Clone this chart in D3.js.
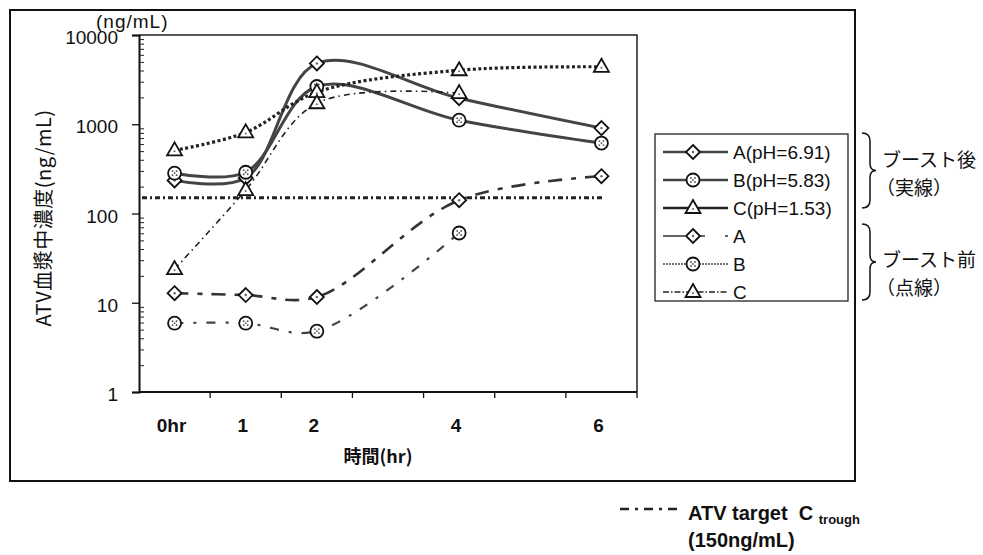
<!DOCTYPE html>
<html>
<head>
<meta charset="utf-8">
<script src="https://cdn.jsdelivr.net/npm/d3@7.9.0/dist/d3.min.js"></script>
<style>
  body { margin: 0; background: #fff; }
  svg { display: block; font-family: "Liberation Sans", Arial, "Noto Sans CJK JP", sans-serif; }
</style>
</head>
<body>
<svg id="chart" width="983" height="555"></svg>
<script>
// categories on the time axis (3 and 5 have no label)
const hours = [0, 1, 2, 3, 4, 5, 6];
const tickLabels = ["0hr", "1", "2", "", "4", "", "6"];
const yTicks = [1, 10, 100, 1000, 10000];

// sampled time points
const hoursFull = [0, 1, 2, 4, 6];
const hoursShort = [0, 1, 2, 4];

// after boost (solid)
const aAfter = [235, 250, 4800, 1960, 905];
const bAfter = [283, 290, 2650, 1110, 615];
const cAfter = [510, 810, 2290, 4030, 4400];
// before boost (dashed)
const aBefore = [12.8, 12.2, 11.6, 141, 262];
const bBefore = [5.9, 5.9, 4.8, 60.5];
const cBefore = [23.8, 183, 1720, 2230];

const targetTrough = 150;

const series = [
  {name: "A(pH=6.91)", hrs: hoursFull, vals: aAfter, marker: "diamond", dash: null, width: 3, color: "#444", legendDash: null},
  {name: "B(pH=5.83)", hrs: hoursFull, vals: bAfter, marker: "circle", dash: null, width: 3, color: "#444", legendDash: null},
  {name: "C(pH=1.53)", hrs: hoursFull, vals: cAfter, marker: "triangle", dash: "3,2.5", width: 3.2, color: "#222", legendDash: null},
  {name: "A", hrs: hoursFull, vals: aBefore, marker: "diamond", dash: "14,9,5,9", width: 2.6, color: "#333", legendDash: "22,14,6,20"},
  {name: "B", hrs: hoursShort, vals: bBefore, marker: "circle", dash: "9,10,3,10", width: 2.2, color: "#444", legendDash: "2,1"},
  {name: "C", hrs: hoursShort, vals: cBefore, marker: "triangle", dash: "6,4,1.5,4", width: 1.6, color: "#222", legendDash: "6,2,1.5,2"}
];

const svg = d3.select("#chart");

// outer frame
svg.append("rect")
  .attr("x", 10).attr("y", 10)
  .attr("width", 845).attr("height", 471)
  .attr("fill", "none").attr("stroke", "#111").attr("stroke-width", 2);

const plot = {left: 139, right: 637, top: 35, bottom: 392};

const x = d3.scaleBand().domain(hours).range([plot.left, plot.right]).padding(0);
const cx = h => x(h) + x.bandwidth() / 2;
const y = d3.scaleLog().domain([1, 10000]).range([plot.bottom, plot.top]);

// plot border (top and right)
svg.append("path")
  .attr("d", `M${plot.left},${plot.top}H${plot.right}V${plot.bottom}`)
  .attr("fill", "none").attr("stroke", "#222").attr("stroke-width", 1.5);

// y axis
const yAxis = svg.append("g")
  .attr("transform", `translate(${plot.left},0)`)
  .call(d3.axisLeft(y).tickValues(yTicks).tickFormat(d3.format("d")).tickSize(7).tickPadding(14));
yAxis.select(".domain").attr("stroke", "#111").attr("stroke-width", 2);
yAxis.selectAll(".tick line").attr("stroke", "#111").attr("stroke-width", 1.3);
yAxis.selectAll(".tick text")
  .attr("font-size", 19).attr("fill", "#111").attr("dy", "0.45em")
  .style("font-family", "'Liberation Sans', Arial, sans-serif");

// minor ticks inside
const minor = y.ticks().filter(v => !yTicks.includes(v));
const yMinor = svg.append("g")
  .attr("transform", `translate(${plot.left},0)`)
  .call(d3.axisRight(y).tickValues(minor).tickFormat("").tickSize(5));
yMinor.select(".domain").remove();
yMinor.selectAll(".tick line").attr("stroke", "#222").attr("stroke-width", 1);

// x axis
svg.append("line")
  .attr("x1", plot.left).attr("x2", plot.right)
  .attr("y1", plot.bottom).attr("y2", plot.bottom)
  .attr("stroke", "#111").attr("stroke-width", 2);
svg.append("g").selectAll("line")
  .data(hours)
  .join("line")
  .attr("x1", d => x(d) + x.bandwidth()).attr("x2", d => x(d) + x.bandwidth())
  .attr("y1", plot.bottom).attr("y2", plot.bottom + 6)
  .attr("stroke", "#111").attr("stroke-width", 1.3);
svg.append("g").selectAll("text")
  .data(hours)
  .join("text")
  .attr("x", d => cx(d) - 3)
  .attr("y", plot.bottom + 40)
  .attr("text-anchor", "middle")
  .attr("font-size", 19).attr("font-weight", "bold").attr("fill", "#111")
  .text((d, i) => tickLabels[i]);

// axis titles
svg.append("text")
  .attr("x", 378).attr("y", 463)
  .attr("text-anchor", "middle")
  .attr("font-size", 18).attr("font-weight", "bold").attr("fill", "#111")
  .style("font-family", "'Noto Sans CJK JP', sans-serif")
  .text("時間(hr)");

svg.append("text")
  .attr("transform", "translate(51,218) rotate(-90)")
  .attr("text-anchor", "middle")
  .attr("font-size", 20).attr("fill", "#111")
  .attr("letter-spacing", 0.5)
  .style("font-family", "'Noto Sans CJK JP', sans-serif")
  .text("ATV血漿中濃度(ng/mL)");

svg.append("text")
  .attr("x", 96).attr("y", 28)
  .attr("font-size", 19).attr("fill", "#111")
  .attr("letter-spacing", 1)
  .text("(ng/mL)");

// target trough line
const line = d3.line().x(d => d[0]).y(d => y(d[1]));
svg.append("path")
  .attr("d", line([[plot.left + 3, targetTrough], [cx(6) + 3, targetTrough]]))
  .attr("fill", "none").attr("stroke", "#222").attr("stroke-width", 3)
  .attr("stroke-dasharray", "5,3,2,3");

// series lines
const curve = d3.line()
  .x(d => cx(d[0])).y(d => y(d[1]))
  .curve(d3.curveCatmullRom);

series.forEach(s => {
  const pts = s.hrs.map((h, i) => [h, s.vals[i]]);
  svg.append("path")
    .attr("d", curve(pts))
    .attr("fill", "none")
    .attr("stroke", s.color)
    .attr("stroke-width", s.width)
    .attr("stroke-dasharray", s.dash);
});

// markers
function drawMarker(g, type, px, py) {
  if (type === "diamond") {
    g.append("path")
      .attr("d", `M${px},${py - 7}L${px + 7},${py}L${px},${py + 7}L${px - 7},${py}Z`)
      .attr("fill", "#fff").attr("stroke", "#111").attr("stroke-width", 1.8);
    g.append("circle").attr("cx", px).attr("cy", py).attr("r", 1.2).attr("fill", "#666");
  } else if (type === "circle") {
    g.append("circle").attr("cx", px).attr("cy", py).attr("r", 6.5)
      .attr("fill", "#fff").attr("stroke", "#111").attr("stroke-width", 1.8);
    [[-2, -2], [2, -2], [-2, 2], [2, 2], [0, 0]].forEach(o => {
      g.append("circle").attr("cx", px + o[0]).attr("cy", py + o[1]).attr("r", 0.9).attr("fill", "#555");
    });
  } else {
    g.append("path")
      .attr("d", `M${px},${py - 8}L${px + 7.5},${py + 5}L${px - 7.5},${py + 5}Z`)
      .attr("fill", "#fff").attr("stroke", "#111").attr("stroke-width", 1.8);
    g.append("circle").attr("cx", px).attr("cy", py + 1).attr("r", 1).attr("fill", "#666");
  }
}

const markers = svg.append("g");
series.forEach(s => {
  s.hrs.forEach((h, i) => drawMarker(markers, s.marker, cx(h), y(s.vals[i])));
});

// legend
const legend = svg.append("g");
legend.append("rect")
  .attr("x", 655).attr("y", 134)
  .attr("width", 193).attr("height", 167)
  .attr("fill", "#fff").attr("stroke", "#222").attr("stroke-width", 1.3);

series.forEach((s, i) => {
  const ry = 152 + i * 28;
  legend.append("line")
    .attr("x1", 663).attr("x2", 728)
    .attr("y1", ry).attr("y2", ry)
    .attr("stroke", s.color).attr("stroke-width", i < 3 ? 2.6 : 1.6)
    .attr("stroke-dasharray", s.legendDash);
  drawMarker(legend, s.marker, 693, ry);
  legend.append("text")
    .attr("x", 733).attr("y", ry + 7)
    .attr("font-size", 19).attr("fill", "#111")
    .text(s.name);
});

// braces and group labels
const brace = (top, bot, xb) => {
  const mid = (top + bot) / 2;
  return `M${xb},${top}Q${xb + 8},${top} ${xb + 8},${top + 8}L${xb + 8},${mid - 7}Q${xb + 8},${mid} ${xb + 14},${mid}` +
         `Q${xb + 8},${mid} ${xb + 8},${mid + 7}L${xb + 8},${bot - 8}Q${xb + 8},${bot} ${xb},${bot}`;
};
svg.append("path").attr("d", brace(133, 208, 862))
  .attr("fill", "none").attr("stroke", "#111").attr("stroke-width", 1.5);
svg.append("path").attr("d", brace(224, 300, 862))
  .attr("fill", "none").attr("stroke", "#111").attr("stroke-width", 1.5);

const groupLabels = [
  {t: "ブースト後", x: 882, y: 167},
  {t: "（実線）", x: 876, y: 195},
  {t: "ブースト前", x: 882, y: 267},
  {t: "（点線）", x: 876, y: 295}
];
svg.append("g").selectAll("text")
  .data(groupLabels)
  .join("text")
  .attr("x", d => d.x).attr("y", d => d.y)
  .attr("font-size", 19).attr("fill", "#111")
  .style("font-family", "'Noto Sans CJK JP', sans-serif")
  .text(d => d.t);

// target legend below the frame
svg.append("line")
  .attr("x1", 620).attr("x2", 678)
  .attr("y1", 509).attr("y2", 509)
  .attr("stroke", "#222").attr("stroke-width", 2.5)
  .attr("stroke-dasharray", "9,6,3,6");
const tgt = svg.append("text")
  .attr("x", 688).attr("y", 520)
  .attr("font-size", 20).attr("font-weight", "bold").attr("fill", "#111")
  .style("white-space", "pre");
tgt.append("tspan").text("ATV target  C ");
tgt.append("tspan").attr("font-size", 13).attr("dy", 4).text("trough");
svg.append("text")
  .attr("x", 688).attr("y", 547)
  .attr("font-size", 20).attr("font-weight", "bold").attr("fill", "#111")
  .text("(150ng/mL)");
</script>
</body>
</html>
